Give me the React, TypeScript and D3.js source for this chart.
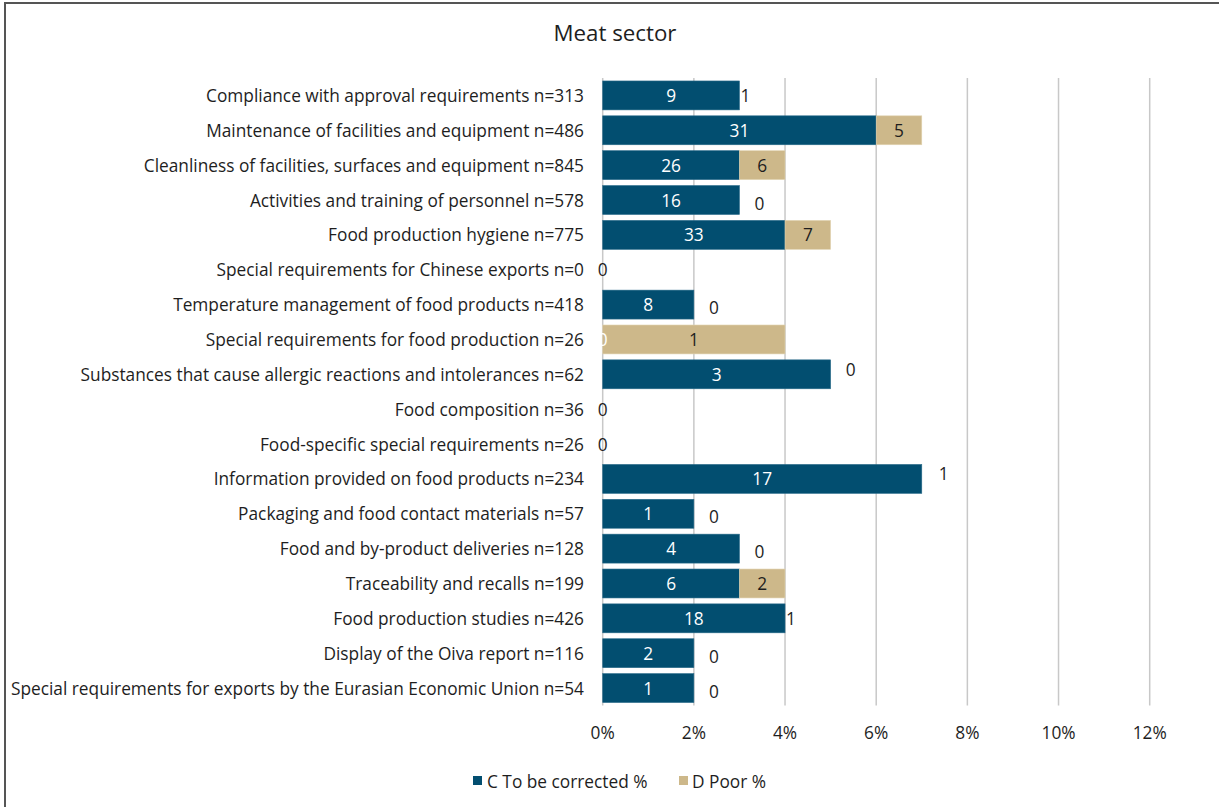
import React from "react";
import * as d3 from "d3";

const categories = [
  "Compliance with approval requirements n=313",
  "Maintenance of facilities and equipment n=486",
  "Cleanliness of facilities, surfaces and equipment n=845",
  "Activities and training of personnel n=578",
  "Food production hygiene n=775",
  "Special requirements for Chinese exports n=0",
  "Temperature management of food products n=418",
  "Special requirements for food production n=26",
  "Substances that cause allergic reactions and intolerances n=62",
  "Food composition n=36",
  "Food-specific special requirements n=26",
  "Information provided on food products n=234",
  "Packaging and food contact materials n=57",
  "Food and by-product deliveries n=128",
  "Traceability and recalls n=199",
  "Food production studies n=426",
  "Display of the Oiva report n=116",
  "Special requirements for exports by the Eurasian Economic Union n=54",
];
const cPct = [3, 6, 3, 3, 4, 0, 2, 0, 5, 0, 0, 7, 2, 3, 3, 4, 2, 2];
const dPct = [0, 1, 1, 0, 1, 0, 0, 4, 0, 0, 0, 0, 0, 0, 1, 0, 0, 0];
const cCount = [9, 31, 26, 16, 33, 0, 8, 0, 3, 0, 0, 17, 1, 4, 6, 18, 2, 1];
const dCount = [1, 5, 6, 0, 7, 0, 0, 1, 0, 0, 0, 1, 0, 0, 2, 1, 0, 0];
const xTicks = [0, 2, 4, 6, 8, 10, 12];
const seriesNames = ["C To be corrected %", "D Poor %"];
const title = "Meat sector";

const W = 1219;
const H = 807;
const C_COLOR = "#024e70";
const D_COLOR = "#cdb88a";
const TEXT = "#1e1e1e";
const FONT = "'Open Sans', Lato, sans-serif";
const FS = 17.3;

export default function App() {
  const x = d3.scaleLinear().domain([0, 12]).range([602.7, 1149.7]);
  const y = d3.scaleBand<string>().domain(categories).range([78, 705.5]).paddingInner(0.17).paddingOuter(0.085);
  const bw = y.bandwidth();

  return (
    <svg width={W} height={H} style={{ position: "absolute", left: 0, top: 0, background: "#fff" }} fontFamily={FONT}>
      <rect x={5} y={3} width={W + 10} height={H + 10} fill="#fff" stroke="#555" strokeWidth={2} />
      <text x={615} y={41} textAnchor="middle" fontSize={22.3} fill={TEXT}>{title}</text>
      {xTicks.map((t) => (
        <line key={"g" + t} x1={x(t)} x2={x(t)} y1={78} y2={705.5} stroke="#c8c8c8" strokeWidth={1.5} />
      ))}
      {xTicks.map((t) => (
        <text key={"t" + t} x={x(t)} y={739} textAnchor="middle" fontSize={FS} fill={TEXT}>{t + "%"}</text>
      ))}
      {categories.map((c, i) => {
        const y0 = y(c) as number;
        const cy = y0 + bw / 2;
        const xc0 = x(0);
        const xc1 = x(cPct[i]);
        const xd1 = x(cPct[i] + dPct[i]);
        let dLabelX = (xc1 + xd1) / 2;
        let dLabelDy = 0;
        if (dPct[i] === 0) {
          if (cPct[i] === 0) dLabelX = xc0;
          else if (dCount[i] > 0) dLabelX = xc1 + (cPct[i] > 5 ? 22 : 6);
          else dLabelX = xc1 + 20;
          if (cPct[i] > 4) dLabelDy = -5;
          else if (cPct[i] > 0 && dCount[i] === 0) dLabelDy = 3;
        }
        return (
          <g key={c}>
            <text x={584} y={cy} dy="0.38em" textAnchor="end" fontSize={FS} fill={TEXT}>{c}</text>
            {cPct[i] > 0 && (
              <rect x={xc0} y={y0} width={xc1 - xc0} height={bw} fill={C_COLOR} stroke="#2a6b8a" strokeWidth={0.6} />
            )}
            {dPct[i] > 0 && (
              <rect x={xc1} y={y0} width={xd1 - xc1} height={bw} fill={D_COLOR} stroke="#e2d4b3" strokeWidth={0.6} />
            )}
            <text x={(xc0 + xc1) / 2} y={cy} dy="0.38em" textAnchor="middle" fontSize={FS} fill="#fff">{cCount[i]}</text>
            <text x={dLabelX} y={cy + dLabelDy} dy="0.38em" textAnchor="middle" fontSize={FS} fill={TEXT}>{dCount[i]}</text>
          </g>
        );
      })}
      <g>
        <rect x={473} y={776} width={9} height={9} fill={C_COLOR} />
        <text x={487} y={781} dy="0.4em" fontSize={FS} fill={TEXT}>{seriesNames[0]}</text>
        <rect x={679} y={776} width={9} height={9} fill={D_COLOR} />
        <text x={692} y={781} dy="0.4em" fontSize={FS} fill={TEXT}>{seriesNames[1]}</text>
      </g>
    </svg>
  );
}
